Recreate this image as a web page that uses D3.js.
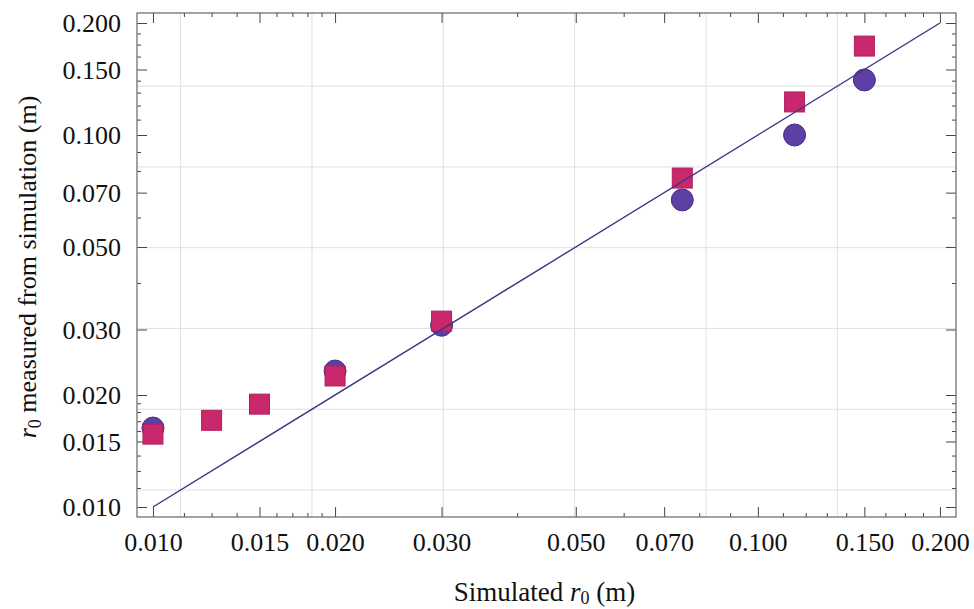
<!DOCTYPE html>
<html><head><meta charset="utf-8">
<script src="https://cdn.jsdelivr.net/npm/d3@7"></script>
<style>body{margin:0;background:#fff}svg{display:block}</style>
</head><body>
<svg id="c" width="974" height="609"></svg>
<script>
const xCircle = [0.01, 0.02, 0.03, 0.075, 0.115, 0.15];
const yCircle = [0.0163, 0.0232, 0.0308, 0.0669, 0.100, 0.1406];
const xSquare = [0.01, 0.0125, 0.015, 0.02, 0.03, 0.075, 0.115, 0.15];
const ySquare = [0.0157, 0.0171, 0.0189, 0.0225, 0.0316, 0.0766, 0.1227, 0.1734];
const lineX = [0.01, 0.2];
const lineY = [0.01, 0.2];
const majorTicks = [0.01, 0.015, 0.02, 0.03, 0.05, 0.07, 0.1, 0.15, 0.2];
const majorLabels = ["0.010","0.015","0.020","0.030","0.050","0.070","0.100","0.150","0.200"];
const minorTicks = [0.01125,0.0125,0.01375,0.016,0.017,0.018,0.019,0.04,0.06,0.08,0.09,0.11,0.12,0.13,0.14,0.1625,0.175,0.1875];
const gridVals = [-4.5,-4,-3.5,-3,-2.5,-2].map(Math.exp);

const L=137,R=956,T=13,B=517;
const x = d3.scaleLog().domain([0.00941,0.2126]).range([L,R]);
const y = d3.scaleLog().domain([0.009399,0.2128]).range([B,T]);
const svg = d3.select("#c");
const font = "'Liberation Serif','Times New Roman',serif";

// grid
const g = svg.append("g");
g.selectAll(".gx").data(gridVals).join("line").attr("x1",d=>x(d)).attr("x2",d=>x(d)).attr("y1",T).attr("y2",B).attr("stroke","#e0e0e0").attr("stroke-width",1);
g.selectAll(".gy").data(gridVals).join("line").attr("y1",d=>y(d)).attr("y2",d=>y(d)).attr("x1",L).attr("x2",R).attr("stroke","#e0e0e0").attr("stroke-width",1);

// axes with inward ticks
function axisSet(axisFn, scale, tr, labels, sizeMaj, sizeMin){
  const maj = axisFn(scale).tickValues(majorTicks).tickSize(sizeMaj).tickFormat(labels ? (d,i)=>majorLabels[i] : "");
  const a = svg.append("g").attr("transform",tr).call(maj);
  const mn = axisFn(scale).tickValues(minorTicks).tickSize(sizeMin).tickFormat("");
  const b = svg.append("g").attr("transform",tr).call(mn);
  [a,b].forEach(s=>{s.select(".domain").remove(); s.selectAll("line").attr("stroke","#444").attr("stroke-width",1);});
  a.selectAll("text").attr("font-family",font).attr("font-size",26).attr("fill","#111");
  return a;
}
const bx = axisSet(d3.axisBottom, x, `translate(0,${B})`, true, -10, -4);
bx.selectAll("text").attr("y",16).attr("dy","0.71em");
axisSet(d3.axisTop, x, `translate(0,${T})`, false, -10, -4);
const ly = axisSet(d3.axisLeft, y, `translate(${L},0)`, true, -10, -4);
ly.selectAll("text").attr("x",-16).attr("dy","0.34em");
axisSet(d3.axisRight, y, `translate(${R},0)`, false, -10, -4);

// frame
svg.append("rect").attr("x",L).attr("y",T).attr("width",R-L).attr("height",B-T).attr("fill","none").attr("stroke","#666").attr("stroke-width",1.2);

// circles
svg.append("g").selectAll("circle").data(xCircle).join("circle")
  .attr("cx",d=>x(d)).attr("cy",(d,i)=>y(yCircle[i])).attr("r",11)
  .attr("fill","#5e3fa3").attr("stroke","#4a2f8a").attr("stroke-width",1);
// squares
svg.append("g").selectAll("rect").data(xSquare).join("rect")
  .attr("x",d=>x(d)-10).attr("y",(d,i)=>y(ySquare[i])-10).attr("width",20).attr("height",20)
  .attr("fill","#c9296c").attr("stroke","#b01f5c").attr("stroke-width",1);

// line
const ln = d3.line().x(d=>x(d[0])).y(d=>y(d[1]));
svg.append("path").datum(lineX.map((v,i)=>[v,lineY[i]])).attr("d",ln).attr("fill","none").attr("stroke","#3c3585").attr("stroke-width",1.4);

// axis titles
const xt = svg.append("text").attr("x",(L+R)/2-2).attr("y",601).attr("text-anchor","middle").attr("font-family",font).attr("font-size",27).attr("fill","#111");
xt.append("tspan").text("Simulated ");
xt.append("tspan").attr("font-style","italic").text("r");
xt.append("tspan").attr("font-size",18).attr("dy",3).text("0");
xt.append("tspan").attr("dy",-3).text(" (m)");

const yt = svg.append("text").attr("transform",`translate(36,${(T+B)/2+2}) rotate(-90)`).attr("text-anchor","middle").attr("font-family",font).attr("font-size",26).attr("fill","#111");
yt.append("tspan").attr("font-style","italic").text("r");
yt.append("tspan").attr("font-size",18).attr("dy",5).text("0");
yt.append("tspan").attr("dy",-5).text(" measured from simulation (m)");
</script>
</body></html>
